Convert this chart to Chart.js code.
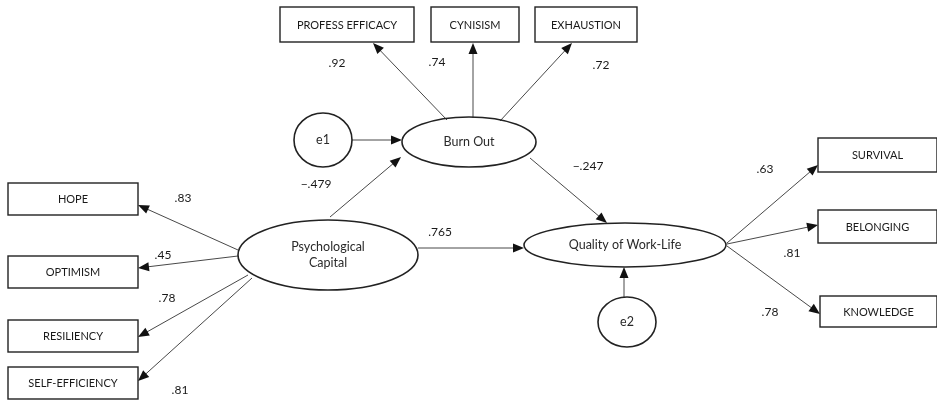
<!DOCTYPE html>
<html>
<head>
<meta charset="utf-8">
<script src="https://cdn.jsdelivr.net/npm/chart.js@4"></script>
<style>
  body { margin: 0; background: #fff; }
  #wrap { width: 937px; height: 400px; }
</style>
</head>
<body>
<div id="wrap"><canvas id="semChart" width="937" height="400"></canvas></div>
<script>
// ==== Data ====
const latentNames = ["Psychological Capital", "Burn Out", "Quality of Work-Life"];
const errorNames = ["e1", "e2"];

const psyCapIndicators = ["HOPE", "OPTIMISM", "RESILIENCY", "SELF-EFFICIENCY"];
const psyCapLoadings = [0.83, 0.45, 0.78, 0.81];

const burnOutIndicators = ["PROFESS EFFICACY", "CYNISISM", "EXHAUSTION"];
const burnOutLoadings = [0.92, 0.74, 0.72];

const qwlIndicators = ["SURVIVAL", "BELONGING", "KNOWLEDGE"];
const qwlLoadings = [0.63, 0.81, 0.78];

const pathFrom = ["Psychological Capital", "Burn Out", "Psychological Capital"];
const pathTo = ["Burn Out", "Quality of Work-Life", "Quality of Work-Life"];
const pathCoefficients = [-0.479, -0.247, 0.765];

// ==== Layout (diagram units, 0..937 x 0..400) ====
const boxes = {
  "PROFESS EFFICACY": [280, 7, 414, 42],
  "CYNISISM": [431, 7, 519, 42],
  "EXHAUSTION": [535, 7, 637, 42],
  "HOPE": [8, 183, 138, 215],
  "OPTIMISM": [8, 256, 138, 288],
  "RESILIENCY": [8, 320, 138, 352],
  "SELF-EFFICIENCY": [8, 367, 138, 399],
  "SURVIVAL": [818, 138, 937, 172],
  "BELONGING": [818, 210, 937, 243],
  "KNOWLEDGE": [820, 296, 937, 327]
};
const ellipses = {
  "Psychological Capital": [328, 255, 90, 35],
  "Burn Out": [469, 142, 67, 25],
  "Quality of Work-Life": [625, 245, 101, 22],
  "e1": [323, 140, 29, 27],
  "e2": [627, 322, 29, 25]
};
const ellipseText = {
  "Psychological Capital": ["Psychological", "Capital"]
};
const arrows = {
  "HOPE": [[238, 250], [138, 205]],
  "OPTIMISM": [[238, 256], [138, 268]],
  "RESILIENCY": [[248, 275], [138, 337]],
  "SELF-EFFICIENCY": [[252, 278], [138, 381]],
  "PROFESS EFFICACY": [[447, 120], [373, 43]],
  "CYNISISM": [[473, 118], [473, 43]],
  "EXHAUSTION": [[500, 121], [572, 43]],
  "SURVIVAL": [[727, 243], [818, 165]],
  "BELONGING": [[727, 244], [818, 225]],
  "KNOWLEDGE": [[727, 246], [820, 314]],
  "Psychological Capital>Burn Out": [[330, 217], [401, 157]],
  "Burn Out>Quality of Work-Life": [[530, 158], [607, 223]],
  "Psychological Capital>Quality of Work-Life": [[418, 248], [524, 248]],
  "e1": [[352, 140], [402, 140]],
  "e2": [[624, 298], [624, 267]]
};
const labelPos = {
  "HOPE": [183, 198], "OPTIMISM": [163, 255], "RESILIENCY": [167, 298], "SELF-EFFICIENCY": [180, 390],
  "PROFESS EFFICACY": [337, 63], "CYNISISM": [437, 62], "EXHAUSTION": [601, 65],
  "SURVIVAL": [765, 169], "BELONGING": [792, 253], "KNOWLEDGE": [770, 312],
  "Psychological Capital>Burn Out": [316, 184],
  "Burn Out>Quality of Work-Life": [588, 166],
  "Psychological Capital>Quality of Work-Life": [440, 232]
};

function fmt(v) {
  const s = Math.abs(v).toFixed(v.toString().split(".")[1].length).replace(/^0/, "");
  return v < 0 ? "\u2212" + s : s;
}

// ==== Drawing plugin ====
const semPlugin = {
  id: "sem",
  afterDraw(chart) {
    const ctx = chart.ctx;
    const xs = chart.scales.x, ys = chart.scales.y;
    const px = v => xs.getPixelForValue(v);
    const py = v => ys.getPixelForValue(v);
    const font = "Lato, 'Open Sans', sans-serif";
    ctx.save();
    ctx.textAlign = "center";
    ctx.textBaseline = "middle";

    function arrow(key) {
      const [a, b] = arrows[key];
      const x1 = px(a[0]), y1 = py(a[1]), x2 = px(b[0]), y2 = py(b[1]);
      const ang = Math.atan2(y2 - y1, x2 - x1);
      const len = 11, half = 4.5;
      ctx.strokeStyle = "#333";
      ctx.lineWidth = 0.9;
      ctx.beginPath();
      ctx.moveTo(x1, y1);
      ctx.lineTo(x2 - Math.cos(ang) * len * 0.8, y2 - Math.sin(ang) * len * 0.8);
      ctx.stroke();
      ctx.fillStyle = "#111";
      ctx.beginPath();
      ctx.moveTo(x2, y2);
      ctx.lineTo(x2 - Math.cos(ang) * len + Math.sin(ang) * half, y2 - Math.sin(ang) * len - Math.cos(ang) * half);
      ctx.lineTo(x2 - Math.cos(ang) * len - Math.sin(ang) * half, y2 - Math.sin(ang) * len + Math.cos(ang) * half);
      ctx.closePath();
      ctx.fill();
    }

    function box(name) {
      const [x0, y0, x1, y1] = boxes[name];
      const l = px(x0), t = py(y0), r = px(x1), b = py(y1);
      ctx.strokeStyle = "#222";
      ctx.lineWidth = 1.4;
      ctx.strokeRect(l, t, r - l, b - t);
      ctx.fillStyle = "#1a1a1a";
      ctx.font = "11px " + font;
      ctx.fillText(name, (l + r) / 2, (t + b) / 2 + 0.5);
    }

    function ellipse(name) {
      const [cx, cy, rx, ry] = ellipses[name];
      const x = px(cx), y = py(cy);
      const w = px(cx + rx) - x, h = py(cy + ry) - y;
      ctx.strokeStyle = "#222";
      ctx.lineWidth = 1.6;
      ctx.beginPath();
      ctx.ellipse(x, y, Math.abs(w), Math.abs(h), 0, 0, Math.PI * 2);
      ctx.stroke();
      ctx.fillStyle = "#2a2a2a";
      ctx.font = "12.5px " + font;
      const lines = ellipseText[name] || [name];
      const lh = 16;
      lines.forEach((s, i) => ctx.fillText(s, x, y + (i - (lines.length - 1) / 2) * lh));
    }

    function label(key, v) {
      const [x, y] = labelPos[key];
      ctx.fillStyle = "#1a1a1a";
      ctx.font = "12px " + font;
      ctx.fillText(fmt(v), px(x), py(y));
    }

    // measurement models
    [[psyCapIndicators, psyCapLoadings], [burnOutIndicators, burnOutLoadings], [qwlIndicators, qwlLoadings]]
      .forEach(([names, vals]) => names.forEach((n, i) => { arrow(n); box(n); label(n, vals[i]); }));

    // structural paths
    pathFrom.forEach((f, i) => {
      const key = f + ">" + pathTo[i];
      arrow(key);
      label(key, pathCoefficients[i]);
    });

    errorNames.forEach(e => arrow(e));
    latentNames.concat(errorNames).forEach(n => ellipse(n));
    ctx.restore();
  }
};

// ==== Chart ====
new Chart(document.getElementById("semChart"), {
  type: "scatter",
  data: {
    datasets: [{
      data: latentNames.map(n => ({ x: ellipses[n][0], y: ellipses[n][1] })),
      pointRadius: 0
    }]
  },
  options: {
    responsive: false,
    animation: false,
    layout: { padding: 0 },
    plugins: { legend: { display: false }, tooltip: { enabled: false } },
    scales: {
      x: { type: "linear", min: 0, max: 937, display: false },
      y: { type: "linear", min: 0, max: 400, reverse: true, display: false }
    }
  },
  plugins: [semPlugin]
});
</script>
</body>
</html>
